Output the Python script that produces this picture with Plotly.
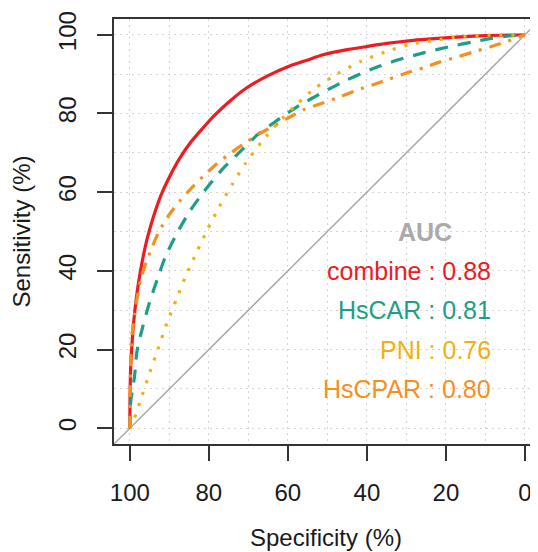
import plotly.graph_objects as go

# ---- data (specificity %, sensitivity %) ----
combine_spec = [100, 99.95, 99.8, 99.5, 99.2, 98.7, 98.2, 97.3, 96.5, 95.6, 94.0, 92.2, 90.0, 87.5, 84.5, 81.5, 78.7, 74.5, 70.3, 65.0, 59.4, 55.0, 51.1, 45.0, 40.1, 35.0, 30.0, 23.0, 17.3, 10.0, 0]
combine_sens = [0, 7, 14.9, 20.5, 25.0, 30.0, 34.2, 40.0, 44.2, 48.2, 53.8, 59.0, 63.8, 68.4, 72.8, 76.3, 79.4, 83.3, 86.6, 89.6, 92.1, 93.6, 94.9, 96.2, 97.0, 97.8, 98.4, 99.0, 99.4, 99.8, 100]

hscar_spec = [100, 99.8, 98.8, 98.2, 96.7, 95.0, 93.1, 91.0, 88.1, 84.8, 81.2, 76.6, 72.4, 67.8, 61.8, 57.8, 51.1, 45.1, 39.2, 32.5, 25.7, 19.0, 13.0, 8.9, 4.0, 0]
hscar_sens = [0, 6.6, 13.2, 19.5, 25.9, 32.0, 37.7, 43.6, 49.5, 55.2, 60.2, 65.8, 70.0, 74.5, 78.9, 81.6, 85.4, 88.5, 91.1, 93.5, 95.4, 97.0, 98.2, 99.0, 99.7, 100]

pni_spec = [100, 99.0, 96.9, 94.9, 92.7, 90.6, 88.2, 85.8, 83.1, 80.3, 77.3, 74.0, 70.6, 66.7, 62.5, 57.8, 52.9, 47.4, 41.6, 35.4, 29.3, 22.8, 16.5, 8.0, 0]
pni_sens = [0, 2.1, 8.3, 14.3, 20.6, 26.8, 32.8, 38.8, 44.7, 50.6, 56.4, 62.1, 67.5, 72.7, 77.6, 82.3, 86.6, 90.1, 93.2, 95.6, 97.5, 98.6, 99.5, 99.9, 100]

hscpar_spec = [100, 99.9, 99.65, 99.4, 98.8, 98.1, 97.3, 95.9, 94.3, 92.5, 90.1, 87.4, 84.8, 81.5, 77.9, 74.5, 71.0, 66.9, 62.7, 59.5, 56.1, 51.0, 46.8, 42.6, 38.4, 34.2, 30.0, 25.7, 21.5, 17.3, 13.1, 8.9, 4.6, 0]
hscpar_sens = [0, 10, 20, 24.2, 28.9, 33.3, 37.7, 42.1, 46.2, 50.2, 54.2, 57.7, 60.6, 64.0, 67.3, 69.9, 72.4, 75.0, 77.3, 79.1, 80.9, 82.7, 84.2, 85.9, 87.3, 88.8, 90.3, 91.6, 93.1, 94.3, 95.6, 96.9, 98.3, 100]

series_names = ["combine", "HsCAR", "PNI", "HsCPAR"]
auc_values = [0.88, 0.81, 0.76, 0.80]
series_colors = ["#EE1B22", "#1E9E86", "#F0B012", "#F5901E"]
series_dash = ["solid", "13px,10px", "3px,9px", "12px,8px,3px,8px"]
spec_data = [combine_spec, hscar_spec, pni_spec, hscpar_spec]
sens_data = [combine_sens, hscar_sens, pni_sens, hscpar_sens]

ticks = [0, 20, 40, 60, 80, 100]
diag_spec = [104, -4]
diag_sens = [-4, 104]

FONT = "Liberation Sans, Arial, sans-serif"

fig = go.Figure()

# chance diagonal
fig.add_trace(go.Scatter(x=diag_spec, y=diag_sens, mode="lines",
                         line=dict(color="#AAAAAA", width=1.5),
                         hoverinfo="skip", showlegend=False))

for name, sx, sy, col, dash in zip(series_names, spec_data, sens_data, series_colors, series_dash):
    fig.add_trace(go.Scatter(x=sx, y=sy, mode="lines", name=name,
                             line=dict(color=col, width=3.2, dash=dash, shape="spline", smoothing=0.6),
                             showlegend=False))

# AUC legend text
fig.add_annotation(x=25.2, y=50, xref="x", yref="y", text="<b>AUC</b>", showarrow=False,
                   xanchor="center", yanchor="middle",
                   font=dict(family=FONT, size=25, color="#AAAAAA"))
legend_y = [40, 30, 20, 10]
for name, auc, col, ly in zip(series_names, auc_values, series_colors, legend_y):
    fig.add_annotation(x=8.0, y=ly, xref="x", yref="y", text=f"{name} : {auc:.2f}",
                       showarrow=False, xanchor="right", yanchor="middle",
                       font=dict(family=FONT, size=25, color=col))

grid_col = "#D4D4D4"
axis_common = dict(
    tickmode="array", tickvals=ticks, ticktext=[str(t) for t in ticks],
    ticks="outside", ticklen=15, tickwidth=1.8, tickcolor="#333333",
    showline=True, linecolor="#333333", linewidth=1.8,
    showgrid=True, gridcolor=grid_col, gridwidth=1, griddash="2px,4px",
    minor=dict(tickmode="linear", tick0=0, dtick=10, showgrid=True, gridcolor=grid_col,
               gridwidth=1, griddash="2px,4px", ticks=""),
    zeroline=False, automargin=False,
    tickfont=dict(family=FONT, size=24, color="#1A1A1A"),
)

fig.update_xaxes(range=[104, -3.3], mirror=True, ticklabelstandoff=11,
                 title=dict(text="Specificity (%)", font=dict(family=FONT, size=24, color="#1A1A1A"), standoff=24),
                 **axis_common)
fig.update_yaxes(range=[-4, 104], mirror=False, tickangle=-90, ticklabelstandoff=12,
                 title=dict(text="Sensitivity (%)", font=dict(family=FONT, size=24, color="#1A1A1A"), standoff=16),
                 **axis_common)

# the page body adds an 8px offset, so the figure is sized to end at the window edge
fig.update_layout(
    width=530, height=544,
    margin=dict(l=106, r=0, t=11, b=108),
    plot_bgcolor="white", paper_bgcolor="white",
    showlegend=False,
)

fig.write_html("out.html")
